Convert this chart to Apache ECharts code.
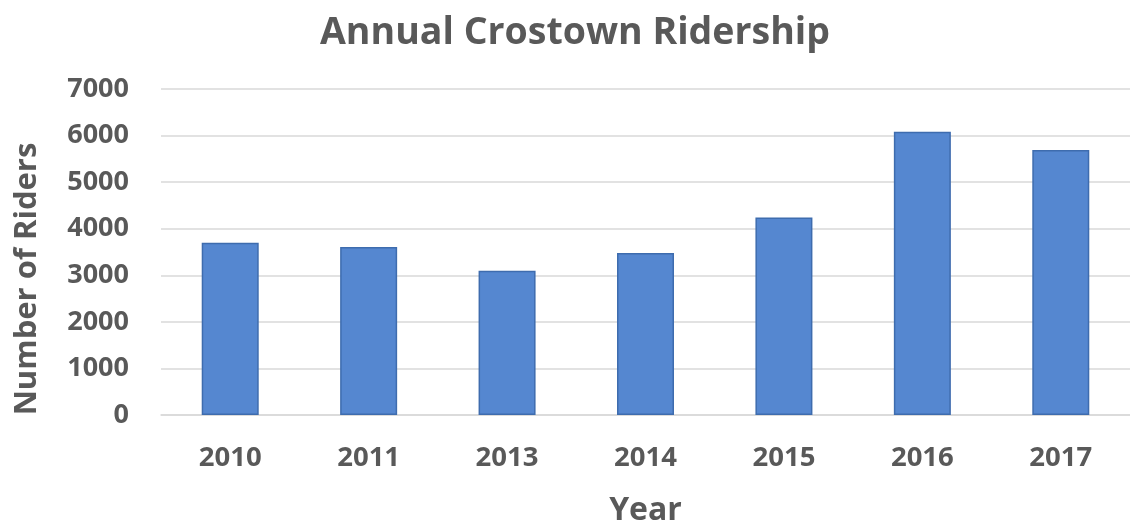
<!DOCTYPE html>
<html>
<head>
<meta charset="utf-8">
<script src="https://cdn.jsdelivr.net/npm/echarts@6/dist/echarts.min.js"></script>
<style>
  html, body { margin: 0; padding: 0; background: #fff; }
  #chart { width: 1130px; height: 527px; }
</style>
</head>
<body>
<div id="chart"></div>
<script>
// 数据
const years = ['2010', '2011', '2013', '2014', '2015', '2016', '2017']
const riders = [3700, 3610, 3100, 3480, 4240, 6080, 5690]

const textColor = '#595959'
const font = '"Open Sans", "DejaVu Sans", sans-serif'

const chart = echarts.init(document.getElementById('chart'))

const option = {
  backgroundColor: '#ffffff',
  animation: false,
  title: {
    text: 'Annual Crostown Ridership',
    left: 315,
    top: 9,
    textStyle: {
      color: textColor,
      fontFamily: font,
      fontWeight: 'bold',
      fontSize: 37.5
    }
  },
  grid: {
    left: 161,
    right: 0,
    top: 89,
    bottom: 112,
    containLabel: false,
    outerBoundsMode: 'none'
  },
  xAxis: {
    type: 'category',
    data: years,
    name: 'Year',
    nameLocation: 'middle',
    nameGap: 80,
    nameTextStyle: {
      color: textColor,
      fontFamily: font,
      fontWeight: 'bold',
      fontSize: 32
    },
    axisLine: { lineStyle: { color: '#d9d9d9', width: 1.5 } },
    axisTick: { show: false },
    axisLabel: {
      color: textColor,
      fontFamily: font,
      fontWeight: 'bold',
      fontSize: 27.5,
      margin: 29
    }
  },
  yAxis: {
    type: 'value',
    min: 0,
    max: 7000,
    interval: 1000,
    name: 'Number of Riders',
    nameLocation: 'middle',
    nameRotate: 90,
    nameGap: 118,
    nameTextStyle: {
      color: textColor,
      fontFamily: font,
      fontWeight: 'bold',
      fontSize: 31,
      padding: [0, 54, 0, 0]
    },
    axisLine: { show: false },
    axisTick: { show: false },
    axisLabel: {
      color: textColor,
      fontFamily: font,
      fontWeight: 'bold',
      fontSize: 27,
      margin: 32,
      formatter: (v) => String(v)
    },
    splitLine: { lineStyle: { color: '#d9d9d9', width: 1.5 } }
  },
  series: [
    {
      type: 'bar',
      data: riders,
      barWidth: 57,
      itemStyle: {
        color: '#5587d0',
        borderColor: '#3e6cae',
        borderWidth: 1.5
      }
    }
  ]
}

chart.setOption(option)
</script>
</body>
</html>
